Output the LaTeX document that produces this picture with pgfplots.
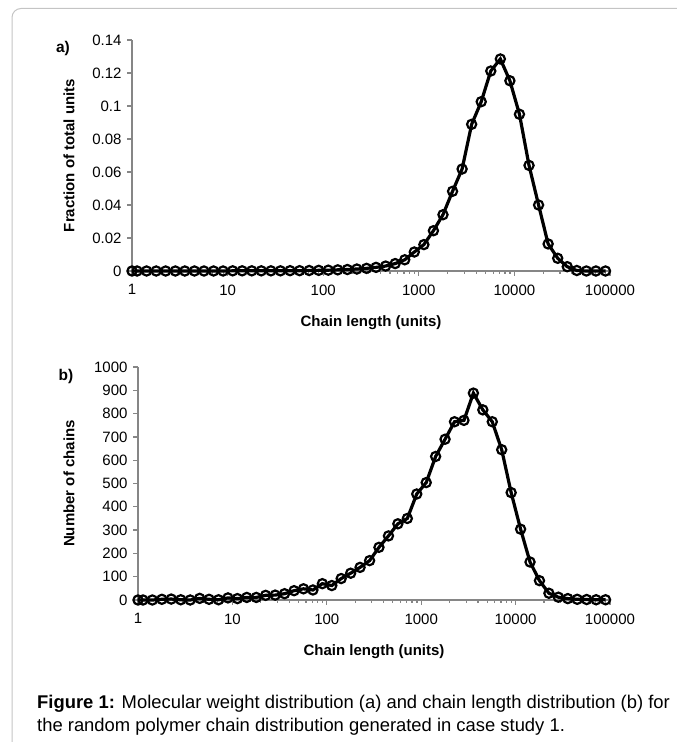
\documentclass[border=0pt]{standalone}
\usepackage{fontspec}
\setmainfont{Liberation Sans}
\usepackage{pgfplots}
\pgfplotsset{compat=1.18}
\usepackage{pgfplotstable}

\definecolor{axisgray}{HTML}{868686}
\definecolor{framegray}{HTML}{C4C4C4}

% chain length grid: 1, then 1.13*10^(k/10)
\pgfplotstableread{
x y
1 0
1.13 0
1.42 0
1.79 0
2.25 0
2.84 0
3.57 0
4.50 0
5.66 0
7.13 0
8.97 0
11.3 0.0001
14.2 0.0001
17.9 0.0001
22.5 0.0001
28.4 0.0001
35.7 0.0001
45.0 0.0002
56.6 0.0002
71.3 0.0003
89.7 0.0004
113 0.0005
142 0.0007
179 0.0009
225 0.0012
284 0.0016
357 0.0022
450 0.0030
566 0.0045
713 0.0068
897 0.0115
1130 0.0160
1422 0.0244
1790 0.0341
2254 0.0483
2837 0.0618
3572 0.0889
4497 0.1026
5661 0.1212
7127 0.1285
8972 0.1153
11295 0.0950
14220 0.0640
17902 0.0400
22537 0.0164
28373 0.0077
35719 0.0026
44967 0.0003
56611 0
71269 0
89722 0
}\mwd

\pgfplotstableread{
x y
1 0
1.13 0
1.42 0
1.79 3
2.25 4
2.84 1
3.57 0
4.50 7
5.66 3
7.13 1
8.97 9
11.3 6
14.2 11
17.9 11
22.5 20
28.4 21
35.7 27
45.0 40
56.6 48
71.3 43
89.7 70
113 62
142 92
179 115
225 140
284 169
357 226
450 275
566 327
713 350
897 455
1130 504
1422 616
1790 690
2254 765
2837 771
3572 888
4497 816
5661 765
7127 645
8972 461
11295 304
14220 163
17902 83
22537 29
28373 12
35719 6
44967 3
56611 2
71269 1
89722 1
}\cld

\pgfplotsset{
  curve/.style={black, line width=3.2pt, mark=o, mark size=4.6pt,
    mark options={line width=2.2pt}},
}

\begin{document}
\begin{tikzpicture}[x=1pt, y=1pt]
\useasboundingbox (0,0) rectangle (677,742);
\begin{scope}
  \clip (0,0) rectangle (677,742);
  \draw[framegray, line width=1pt, rounded corners=9pt] (12,733.5) rectangle (720,-30);
\end{scope}

\begin{axis}[
  at={(132pt,471pt)}, anchor=south west,
  scale only axis, width=478pt, height=231pt,
  xmode=log, xmin=1, xmax=100000,
  xtick={1,10,100,1000,10000,100000},
  xticklabels={1,10,100,1000,10000,100000},
  ymin=0, ymax=0.14, ytick={0,0.02,...,0.14},
  axis x line=bottom, axis y line=left,
  axis line style={axisgray, line width=1.8pt, -},
  every tick/.style={axisgray, line width=1.3pt},
  major tick length=5pt, minor tick length=3pt,
  tick align=outside,
  tick label style={font=\fontsize{15}{17}\selectfont},
  xticklabel style={yshift=-5pt},
  yticklabel style={xshift=-2pt, /pgf/number format/fixed, /pgf/number format/precision=2},
  /pgf/number format/assume math mode=true,
  scaled y ticks=false,
  clip=false,
]
\addplot[curve] table[x=x, y=y] {\mwd};
\end{axis}

\begin{axis}[
  at={(138pt,142pt)}, anchor=south west,
  scale only axis, width=472pt, height=233pt,
  xmode=log, xmin=1, xmax=100000,
  xtick={1,10,100,1000,10000,100000},
  xticklabels={1,10,100,1000,10000,100000},
  ymin=0, ymax=1000, ytick={0,100,...,1000},
  axis x line=bottom, axis y line=left,
  axis line style={axisgray, line width=1.8pt, -},
  every tick/.style={axisgray, line width=1.3pt},
  major tick length=5pt, minor tick length=3pt,
  tick align=outside,
  tick label style={font=\fontsize{15}{17}\selectfont},
  xticklabel style={yshift=-5pt},
  yticklabel style={xshift=-2pt, /pgf/number format/1000 sep={}},
  /pgf/number format/assume math mode=true,
  scaled y ticks=false,
  clip=false,
]
\addplot[curve] table[x=x, y=y] {\cld};
\end{axis}

\node[font=\bfseries\fontsize{15.5}{17}\selectfont] at (63,694) {a)};
\node[font=\bfseries\fontsize{15.5}{17}\selectfont] at (66,366) {b)};
\node[font=\bfseries\fontsize{15}{17}\selectfont, rotate=90] at (69,586.5) {Fraction of total units};
\node[font=\bfseries\fontsize{15}{17}\selectfont, rotate=90] at (69,258.5) {Number of chains};
\node[font=\bfseries\fontsize{15}{17}\selectfont] at (371,419) {Chain length (units)};
\node[font=\bfseries\fontsize{15}{17}\selectfont] at (374,90) {Chain length (units)};

\node[anchor=west, align=left, inner sep=0pt, font=\fontsize{18.4}{23}\selectfont] at (37,27)
  {\textbf{Figure 1:} Molecular weight distribution (a) and chain length distribution (b) for\\
   the random polymer chain distribution generated in case study 1.};
\end{tikzpicture}
\end{document}
